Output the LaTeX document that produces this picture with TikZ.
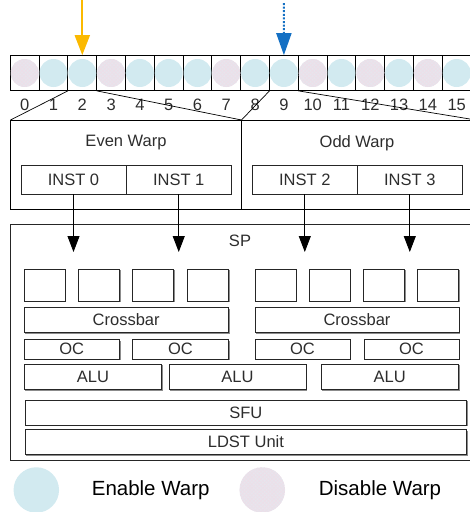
\documentclass[tikz,border=0pt]{standalone}
\usepackage{fontspec}
\setmainfont{Liberation Sans}
\usetikzlibrary{arrows.meta,patterns.meta,shadows}
\definecolor{enab}{RGB}{210,234,240}
\definecolor{disab}{RGB}{231,229,237}
\definecolor{hatchc}{RGB}{238,222,232}
\definecolor{txt}{RGB}{45,45,45}
\definecolor{yel}{RGB}{251,185,0}
\definecolor{blu}{RGB}{20,112,196}
\definecolor{shad}{RGB}{140,140,140}
\begin{document}
\begin{tikzpicture}[x=1pt,y=-1pt, line width=0.9pt,
  cellbox/.style={draw=black, minimum width=28.8pt, minimum height=35.7pt, inner sep=0pt, outer sep=0pt},
  encirc/.style={circle, fill=enab, minimum size=28pt, inner sep=0pt},
  discirc/.style={circle, fill=disab, minimum size=28pt, inner sep=0pt,
     postaction={pattern={Hatch[angle=45,distance=2.6pt,line width=0.45pt]}, pattern color=hatchc}},
  lbl/.style={font=\fontsize{16.5}{18}\selectfont, text=txt, inner sep=0pt},
  numlbl/.style={font=\fontsize{16.5}{18}\selectfont, text=txt, inner sep=0pt},
  wbox/.style={draw=black, inner sep=0pt, outer sep=0pt},
  instbox/.style={draw=black!85, inner sep=0pt, outer sep=0pt, minimum height=29pt, font=\fontsize{16.5}{18}\selectfont, text=txt},
  unit/.style={draw=black!85, inner sep=0pt, outer sep=0pt, fill=white, font=\fontsize{16.5}{18}\selectfont, text=txt,
     drop shadow={shadow xshift=1.2pt, shadow yshift=-1.2pt, fill=shad, opacity=1}},
  flow/.style={draw=black, line width=0.9pt, -{Triangle[length=16pt,width=12pt]}},
  legtxt/.style={font=\fontsize{20.5}{23}\selectfont, text=black, inner sep=0pt},
  legcirc/.style={circle, minimum size=45.5pt, inner sep=0pt}
]
\useasboundingbox (0,0) rectangle (470,512);
\clip (0,0) rectangle (470,512);

% ---- register cells ----
\foreach \i in {0,...,15}{
  \node[cellbox] (c\i) at ({24.7+28.8*\i},73) {};
  \node[numlbl] (n\i) at ({24.7+28.8*\i},105) {\i};
}
\foreach \i in {1,2,4,5,6,8,9,11,13,15}{
  \node[encirc] (e\i) at (c\i.center) {};
}
\foreach \i in {0,3,7,10,12,14}{
  \node[discirc] (d\i) at (c\i.center) {};
}

% ---- scheduler arrows ----
\coordinate (ytop) at (82.3,0);
\coordinate (btop) at (283.9,3);
\draw[draw=yel, line width=2pt, -{Triangle[length=20pt,width=15pt]}] (ytop) -- (c2.north);
\draw[draw=blu, line width=2pt, dash pattern=on 2pt off 1.6pt, -{Triangle[length=22pt,width=15pt]}] (btop) -- (c9.north);

% ---- warp boxes ----
\node[wbox, minimum width=231pt, minimum height=89.5pt] (even) at (126,164.75) {};
\node[wbox, minimum width=234.5pt, minimum height=89.5pt] (odd) at (358.75,164.75) {};
\node[lbl] (evenlbl) at (126,143) {Even Warp};
\node[lbl] (oddlbl) at (357,143) {Odd Warp};

\draw[line width=0.7pt] (c2.south west) -- (even.north west);
\draw[line width=0.7pt] (c3.south west) -- (even.north east);
\draw[line width=0.7pt] (c9.south west) -- (odd.north west);
\draw[line width=0.7pt] (c10.south west) -- (odd.north east);

\node[instbox, minimum width=105pt] (i0) at (73.5,179.5) {INST 0};
\node[instbox, minimum width=105.5pt] (i1) at (178.75,179.5) {INST 1};
\node[instbox, minimum width=105pt] (i2) at (304.8,179.5) {INST 2};
\node[instbox, minimum width=105pt] (i3) at (409.8,179.5) {INST 3};

% ---- SP ----
\node[unit, minimum width=463pt, minimum height=235.7pt] (sp) at (242.2,342.15) {};
\node[lbl] (splbl) at (240,241) {SP};

\coordinate (a0) at (73.5,252);
\coordinate (a1) at (178.75,252);
\coordinate (a2) at (304.8,252);
\coordinate (a3) at (409.8,252);
\draw[flow] (i0.south) -- (a0);
\draw[flow] (i1.south) -- (a1);
\draw[flow] (i2.south) -- (a2);
\draw[flow] (i3.south) -- (a3);

% register squares
\foreach \x [count=\k] in {44.5,98.8,153,207.8,275.5,329.7,383.8,438.3}{
  \node[unit, minimum width=41pt, minimum height=32pt] (r\k) at (\x,285) {};
}
\node[unit, minimum width=204.3pt, minimum height=25.4pt] (xb1) at (126.2,320) {Crossbar};
\node[unit, minimum width=204pt, minimum height=25.4pt] (xb2) at (357,320) {Crossbar};

\node[unit, minimum width=95.3pt, minimum height=19.7pt] (oc1) at (71.7,349.2) {OC};
\node[unit, minimum width=95.6pt, minimum height=19.7pt] (oc2) at (180.5,349.2) {OC};
\node[unit, minimum width=95pt, minimum height=19.7pt] (oc3) at (302.5,349.2) {OC};
\node[unit, minimum width=95pt, minimum height=19.7pt] (oc4) at (411.5,349.2) {OC};

\node[unit, minimum width=137.7pt, minimum height=25.3pt] (alu1) at (92.9,376.7) {ALU};
\node[unit, minimum width=137pt, minimum height=25.3pt] (alu2) at (237.5,376.7) {ALU};
\node[unit, minimum width=137.3pt, minimum height=25.3pt] (alu3) at (389.7,376.7) {ALU};

\node[unit, minimum width=441.7pt, minimum height=25pt] (sfu) at (245.9,412.5) {SFU};
\node[unit, minimum width=441.7pt, minimum height=25pt] (ldst) at (245.9,441.8) {LDST Unit};

% ---- legend ----
\node[legcirc, fill=enab] (legen) at (36.3,490) {};
\node[legtxt] (legentxt) at (150.7,490) {Enable Warp};
\node[legcirc, fill=disab, postaction={pattern={Hatch[angle=45,distance=2.6pt,line width=0.45pt]}, pattern color=hatchc}] (legdis) at (262.3,490) {};
\node[legtxt] (legdistxt) at (380,490) {Disable Warp};
\end{tikzpicture}
\end{document}
